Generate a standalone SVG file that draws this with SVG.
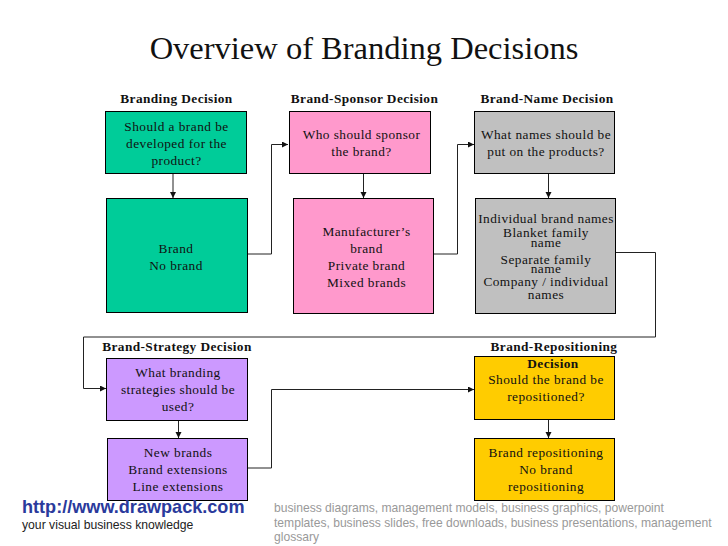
<svg xmlns="http://www.w3.org/2000/svg" width="728" height="546" viewBox="0 0 728 546">
<style>
text{font-family:"Liberation Serif","Times New Roman",serif;text-anchor:middle;fill:#111}
.t{font-size:13.33px;letter-spacing:.45px}
.h{font-size:13.33px;font-weight:bold;letter-spacing:.4px}
.b{stroke:#000;stroke-width:1}
.c{fill:none;stroke:#222;stroke-width:1;marker-end:url(#a)}
.g{fill:#00cc99}.p{fill:#ff99cc}.s{fill:#c0c0c0}.v{fill:#cc99ff}.y{fill:#ffcc00}
.f{font-family:"Liberation Sans",Arial,sans-serif;text-anchor:start}
.k{font-size:12.1px;fill:#999}
</style>
<defs><marker id="a" markerUnits="userSpaceOnUse" markerWidth="7" markerHeight="7" refX="6" refY="3" orient="auto"><path d="M0 0L6 3L0 6z" fill="#111"/></marker></defs>
<rect width="728" height="546" fill="#fff"/>
<text id="title" x="364" y="59" style="font-size:32.5px">Overview of Branding Decisions</text>
<text class="h" x="176.500" y="103">Branding Decision</text>
<text class="h" x="364.500" y="103">Brand-Sponsor Decision</text>
<text class="h" x="547" y="103">Brand-Name Decision</text>
<text class="h" x="177" y="351">Brand-Strategy Decision</text>
<text class="h" x="554" y="351">Brand-Repositioning</text>
<g id="connectors">
<path class="c" d="M173 173.500V198"/>
<path class="c" d="M247.500 254H271.500V144.500H288"/>
<path class="c" d="M363.500 173.500V198"/>
<path class="c" d="M433.500 254H457.500V144.500H474"/>
<path class="c" d="M548.500 173.500V198"/>
<path class="c" d="M615.500 252.500H655.500V337H83.500V388.500H106"/>
<path class="c" d="M178.500 420.500V438"/>
<path class="c" d="M247.500 468H271.500V389.500H474"/>
<path class="c" d="M548.500 419.500V438"/>
</g>
<g id="n1"><rect class="b g" x="105.500" y="111.500" width="141" height="62"/><text class="t" x="176.500" y="131">Should a brand be</text><text class="t" x="176.500" y="148">developed for the</text><text class="t" x="176.500" y="165">product?</text></g>
<g id="n2"><rect class="b g" x="106.500" y="198.500" width="141" height="114"/><text class="t" x="176" y="253">Brand</text><text class="t" x="176" y="270">No brand</text></g>
<g id="n3"><rect class="b p" x="289.500" y="111.500" width="141" height="62"/><text class="t" x="361.500" y="139">Who should sponsor</text><text class="t" x="361.500" y="156">the brand?</text></g>
<g id="n4"><rect class="b p" x="293.500" y="198.500" width="140" height="115"/><text class="t" x="366.500" y="236">Manufacturer’s</text><text class="t" x="366.500" y="253">brand</text><text class="t" x="366.500" y="270">Private brand</text><text class="t" x="366.500" y="287">Mixed brands</text></g>
<g id="n5"><rect class="b s" x="474.500" y="111.500" width="140" height="62"/><text class="t" x="546" y="139">What names should be</text><text class="t" x="546" y="156">put on the products?</text></g>
<g id="n6"><rect class="b s" x="475.500" y="198.500" width="140" height="115"/><text class="t" x="546" y="223">Individual brand names</text><text class="t" x="546" y="237">Blanket family</text><text class="t" x="546" y="247">name</text><text class="t" x="546" y="264">Separate family</text><text class="t" x="546" y="273">name</text><text class="t" x="546" y="286">Company / individual</text><text class="t" x="546" y="299">names</text></g>
<g id="n7"><rect class="b v" x="106.500" y="358.500" width="141" height="62"/><text class="t" x="178" y="377">What branding</text><text class="t" x="178" y="394">strategies should be</text><text class="t" x="178" y="411">used?</text></g>
<g id="n8"><rect class="b v" x="107.500" y="438.500" width="140" height="62"/><text class="t" x="178" y="457">New brands</text><text class="t" x="178" y="474">Brand extensions</text><text class="t" x="178" y="491">Line extensions</text></g>
<g id="n9"><rect class="b y" x="474.500" y="356.500" width="140" height="63"/><text class="h" x="553" y="368">Decision</text><text class="t" x="546" y="384">Should the brand be</text><text class="t" x="546" y="401">repositioned?</text></g>
<g id="n10"><rect class="b y" x="474.500" y="438.500" width="140" height="62"/><text class="t" x="546" y="457">Brand repositioning</text><text class="t" x="546" y="474">No brand</text><text class="t" x="546" y="491">repositioning</text></g>
<text class="f" x="22" y="513" style="font-size:18.1px;font-weight:bold;fill:#2a3a9c">http://www.drawpack.com</text>
<text class="f" x="22" y="528.500" style="font-size:12.2px;fill:#222">your visual business knowledge</text>
<text class="f k" x="274" y="512">business diagrams, management models, business graphics, powerpoint</text>
<text class="f k" x="274" y="527">templates, business slides, free downloads, business presentations, management</text>
<text class="f k" x="274" y="541">glossary</text>
</svg>
